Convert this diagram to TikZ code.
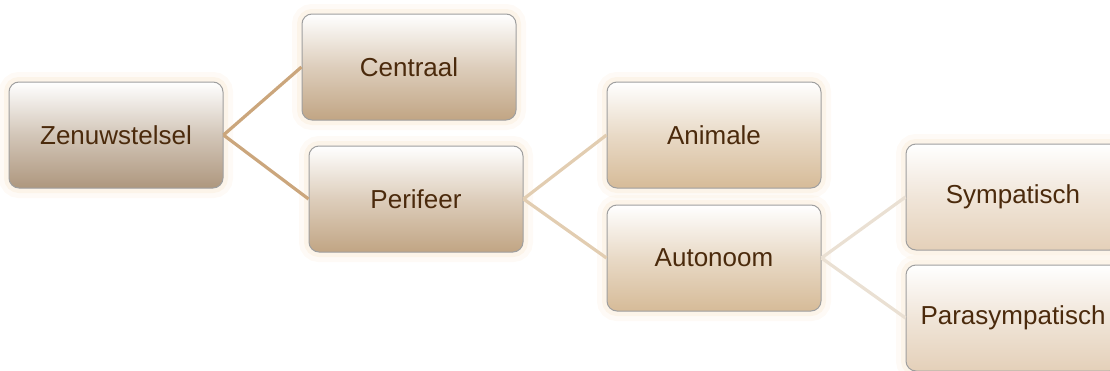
\documentclass[tikz,border=0pt]{standalone}
\usepackage{fontspec}
\setmainfont{Liberation Sans}
\usetikzlibrary{shapes,calc,positioning}
\definecolor{tekst}{HTML}{4B2A0C}
\definecolor{lvla}{HTML}{AE977E}
\definecolor{lvlb}{HTML}{C1A584}
\definecolor{lvlc}{HTML}{D6BB98}
\definecolor{lvld}{HTML}{E4D0B9}
\definecolor{lijna}{HTML}{CBA67C}
\definecolor{lijnb}{HTML}{E2CDB1}
\definecolor{lijnc}{HTML}{EAE0D3}
\definecolor{gloed}{HTML}{FBF1E4}
\tikzset{
	vak/.style={shape=rectangle,rounded corners=5pt,minimum width=107pt,minimum height=53pt,
		draw=gray!75,line width=0.5pt,text=tekst,font=\fontsize{13}{15}\selectfont,
		preaction={draw=gloed,line width=5pt,opacity=0.7},
		preaction={draw=gloed,line width=10pt,opacity=0.35}},
	niveau/.style={vak,top color=white,bottom color=#1,middle color=#1!55!white}
}
\begin{document}
\begin{tikzpicture}
	[x=0.5pt,y=-0.5pt]
	\useasboundingbox (0,0) rectangle (1110,370);
	\clip (0,0) rectangle (1110,370);
	\node[niveau=lvla] (zenuw) at (116,135) {Zenuwstelsel};
	\node[niveau=lvlb] (centraal) at (409,67) {Centraal};
	\node[niveau=lvlb] (perifeer) at (416,199) {Perifeer};
	\node[niveau=lvlc] (animale) at (714,135) {Animale};
	\node[niveau=lvlc] (autonoom) at (714,258) {Autonoom};
	\node[niveau=lvld] (sympa) at (1013,197) {Sympatisch};
	\node[niveau=lvld] (para) at (1013,318) {Parasympatisch};

	\path
	\foreach \startNode/\endNode/\kleur in {zenuw/centraal/lijna,zenuw/perifeer/lijna,perifeer/animale/lijnb,perifeer/autonoom/lijnb,autonoom/sympa/lijnc,autonoom/para/lijnc}
	{
		(\startNode.east) edge[-,draw=\kleur,line width=1.6pt] (\endNode.west)
	};
\end{tikzpicture}
\end{document}
